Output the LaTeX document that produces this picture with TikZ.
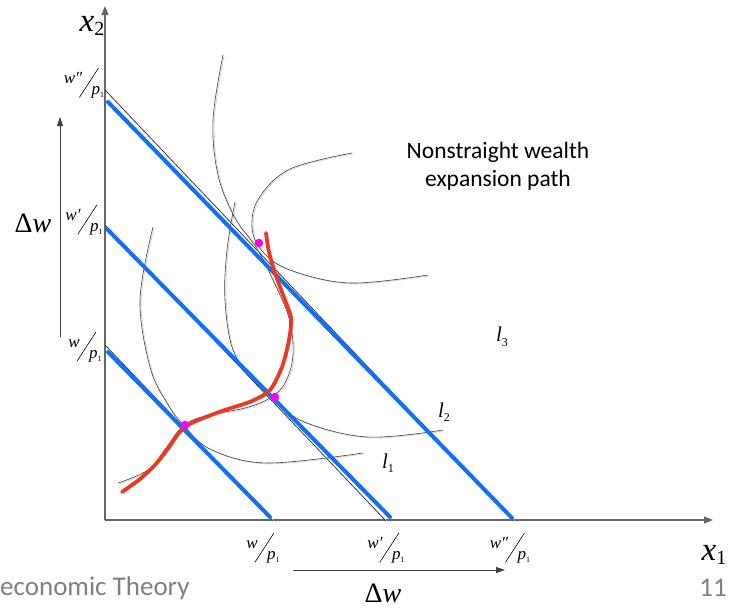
\documentclass[tikz,border=0pt]{standalone}
\usepackage{fontspec}
\usepackage{graphicx}
\usepackage{tikz}
\usetikzlibrary{arrows.meta}
\newfontfamily\tnr{Liberation Serif}
\newfontfamily\carlito{Carlito}
\definecolor{budgetblue}{RGB}{18,112,245}
\definecolor{penred}{RGB}{235,58,35}
\definecolor{dotpink}{RGB}{250,0,235}
\definecolor{footgray}{RGB}{128,128,128}
% variable with a subscript, e.g. x_2 or l_1
\newcommand{\vsub}[4]{{\fontsize{#3}{#3}\selectfont\tnr\itshape #1}\raisebox{-0.45em}{\fontsize{#4}{#4}\selectfont\tnr #2}}
% slanted w/p_1 tick label
\newcommand{\wover}[1]{{\tnr\fontsize{17}{17}\selectfont
  \raisebox{14pt}{\itshape w#1}\kern-3pt
  \rotatebox{57}{\rule{35pt}{0.6pt}}\kern-7pt
  \raisebox{3pt}{\itshape p}\raisebox{0pt}{\fontsize{8}{8}\selectfont 1}}}
\tikzset{
  axisline/.style  = {-{Triangle[length=9pt,width=7pt]},draw=black!60,line width=1.1pt},
  shiftarr/.style  = {-{Triangle[length=9pt,width=6pt]},draw=black!75,line width=0.8pt},
  budget/.style    = {draw=black!85,line width=0.6pt,
                      preaction={draw=black!18,line width=0.9pt,transform canvas={shift={(1.2pt,-0.8pt)}}}},
  blueline/.style  = {draw=budgetblue,line width=4pt,line cap=round},
  icurve/.style    = {draw=black!75,line width=0.6pt,
                      preaction={draw=black!15,line width=0.9pt,transform canvas={shift={(1.2pt,-0.8pt)}}}},
  redpen/.style    = {draw=penred,line width=3.8pt,line cap=round,line join=round},
  tangdot/.style   = {circle,fill=dotpink,inner sep=0pt,minimum size=8.5pt},
  lbl/.style       = {inner sep=0pt}
}

\begin{document}
\begin{tikzpicture}[x=1pt,y=-1pt]
  \useasboundingbox (0,0) rectangle (737,608);
  % axes
  \coordinate (O) at (105,520);
  \coordinate (ytip) at (105,6);
  \coordinate (xtip) at (713,520);
  \draw[axisline] (O) -- (ytip);
  \draw[axisline] (O) -- (xtip);
  \node[lbl] (x2) at (92,26)  {\vsub{x}{2}{33}{20}};
  \node[lbl] (x1) at (714,555) {\vsub{x}{1}{33}{20}};

  % indifference curves
  \draw[icurve] plot[smooth,tension=0.6] coordinates {(153,227) (140,300) (150,367) (167,403) (185,427) (212,450) (267,463) (363,453)};
  \draw[icurve] plot[smooth,tension=0.6] coordinates {(235,202) (227,250) (225,300) (233,350) (255,383) (273,397) (302,421) (367,437) (443,430)};
  \draw[icurve] plot[smooth,tension=0.6] coordinates {(352,153) (290,169) (259,198) (252,227) (262,251) (290,270) (350,283) (428,275)};
  \draw[icurve] plot[smooth,tension=0.6] coordinates {(223,55) (213,120) (218,175) (235,218) (256,247) (272,278) (289,318) (293,355) (285,383) (270,398) (245,408) (205,416) (183,426) (166,448) (148,470) (118,483)};

  % budget lines
  \coordinate (a1) at (105,345); \coordinate (b1) at (273,521);
  \coordinate (a2) at (105,225); \coordinate (b2) at (386,521);
  \coordinate (a3) at (105,90);  \coordinate (b3) at (514,521);
  \draw[budget] (a1) -- (b1);
  \draw[budget] (a2) -- (b2);
  \draw[budget] (a3) -- (b3);
  \coordinate (c1) at (108,352); \coordinate (d1) at (270,517);
  \coordinate (c2) at (107,229); \coordinate (d2) at (390,517);
  \coordinate (c3) at (108,102); \coordinate (d3) at (512,518);
  \draw[blueline] (c1) -- (d1);
  \draw[blueline] (c2) -- (d2);
  \draw[blueline] (c3) -- (d3);

  % wealth expansion path
  \draw[redpen] plot[smooth,tension=0.5] coordinates {(122,492) (140,479) (155,465) (167,450) (179,433) (188,425) (201,419) (222,411) (252,401) (270,390) (282,367) (289,340) (291,318) (285,300) (276,276) (269,252) (266,233)};
  \node[tangdot] (t1) at (185,425) {};
  \node[tangdot] (t2) at (275,397) {};
  \node[tangdot] (t3) at (259,243) {};

  % tick labels
  \node[lbl] (yw3) at (84,83)   {\wover{″}};
  \node[lbl] (yw2) at (84,220)  {\wover{′}};
  \node[lbl] (yw1) at (85,347)  {\wover{}};
  \node[lbl] (xw1) at (263,548) {\wover{}};
  \node[lbl] (xw2) at (386,548) {\wover{′}};
  \node[lbl] (xw3) at (510,548) {\wover{″}};

  % shifts of wealth
  \coordinate (dwlo) at (60,337); \coordinate (dwhi) at (60,117);
  \draw[shiftarr] (dwlo) -- (dwhi);
  \node[lbl] (dwy) at (33,223) {\fontsize{28}{28}\selectfont\tnr Δ\itshape w};
  \coordinate (dwl) at (293,570); \coordinate (dwr) at (505,570);
  \draw[shiftarr] (dwl) -- (dwr);
  \node[lbl] (dwx) at (383,593) {\fontsize{28}{28}\selectfont\tnr Δ\itshape w};

  % curve labels
  \node[lbl] (l1) at (388,463) {\vsub{l}{1}{21}{12}};
  \node[lbl] (l2) at (444,412) {\vsub{l}{2}{21}{12}};
  \node[lbl] (l3) at (502,337) {\vsub{l}{3}{21}{12}};
  \node[lbl,align=center,font=\carlito\fontsize{23.5}{28}\selectfont] (title) at (498,166) {Nonstraight wealth\\expansion path};

  % footer
  \node[lbl,anchor=west,text=footgray,font=\carlito\fontsize{27}{27}\selectfont] (foot) at (0,588) {economic Theory};
  \node[lbl,text=footgray,font=\carlito\fontsize{27}{27}\selectfont] (pageno) at (713,588) {11};
\end{tikzpicture}
\end{document}
